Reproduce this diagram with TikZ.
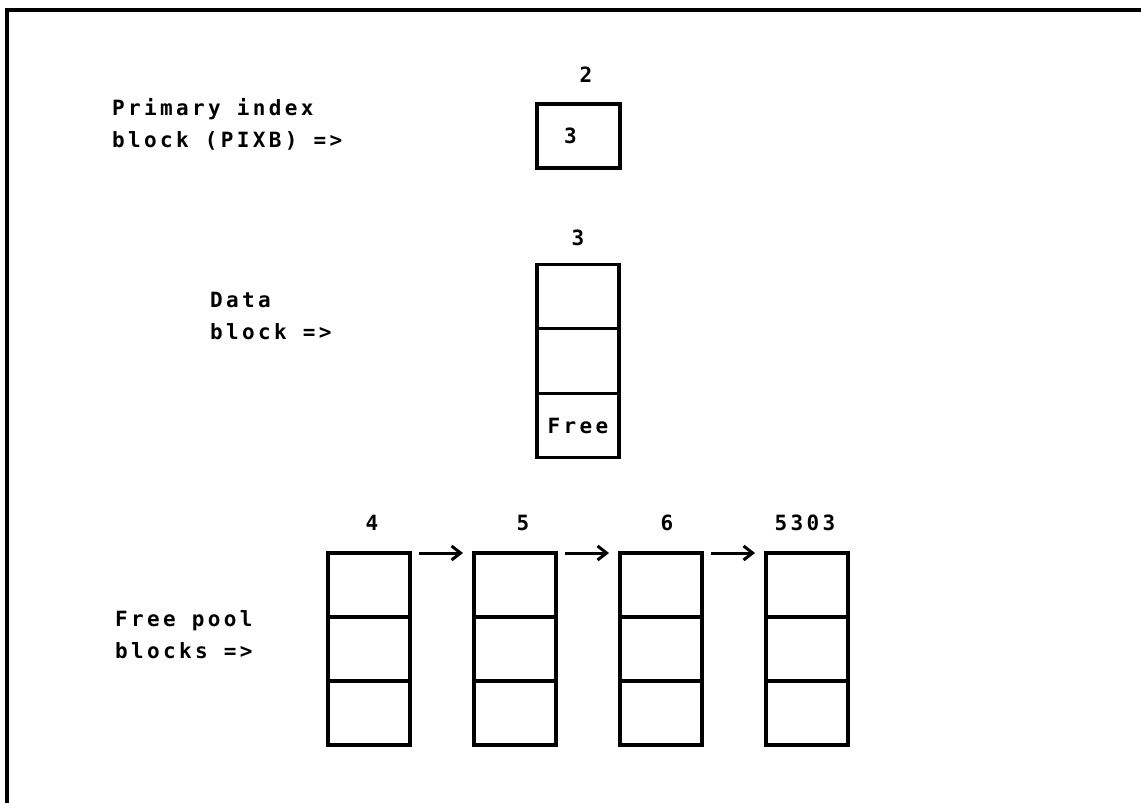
\documentclass[tikz,border=0pt]{standalone}
\usepackage{fontspec}
\newfontfamily\prtfont[LetterSpace=16]{DejaVu Sans Mono}
\usetikzlibrary{calc,arrows.meta}
\newcommand{\prtstyle}{\prtfont\bfseries\fontsize{21}{32}\selectfont}
\tikzset{
  cell/.style={draw,line width=3.2pt,minimum width=82pt,minimum height=64pt,inner sep=0pt,outer sep=0pt,font=\prtstyle},
  txt/.style={inner sep=0pt,align=left,anchor=base west,font=\prtstyle},
  num/.style={inner sep=0pt,font=\prtstyle},
  link/.style={line width=3pt,-{Straight Barb[length=9pt,width=14pt,line width=3pt]}}
}

\begin{document}
\begin{tikzpicture}[x=1pt,y=-1pt]
\useasboundingbox (0,0) rectangle (1141,803);
\draw[line width=3.4pt] (1141,10) -| (7,803);
% captions on the left
\node[txt] (pixbtxt) at (112,147) {Primary index\\block (PIXB) =>};
\node[txt] (dbtxt) at (210,339) {Data\\block =>};
\node[txt] (fptxt) at (115,658) {Free pool\\blocks =>};
% primary index block
\node[num] (pixbno) at (586,75) {2};
\node[cell,minimum width=83pt] (pixb) at (578.5,136) {3\rule{16pt}{0pt}};
% data block
\node[num] (dbno) at (578,238) {3};
\foreach \r/\y/\t in {1/296.5/{},2/361/{},3/425.5/Free}
  \node[cell,minimum height=64.5pt] (db\r) at (578,\y) {\t};
% free pool blocks
\foreach \k/\x/\lx/\n in {1/369/372/4,2/515/523/5,3/661/667/6,4/807/805/5303}{
  \node[num] (fpno\k) at (\lx,523) {\n};
  \foreach \r/\y in {1/585,2/649,3/713}
    \node[cell] (fp\k-\r) at (\x,\y) {};
}
\foreach \k/\j in {1/2,2/3,3/4}
  \draw[link] ([xshift=9pt]fp\k-1.north east) -- ([xshift=-11pt]fp\j-1.north west);
\end{tikzpicture}
\end{document}
